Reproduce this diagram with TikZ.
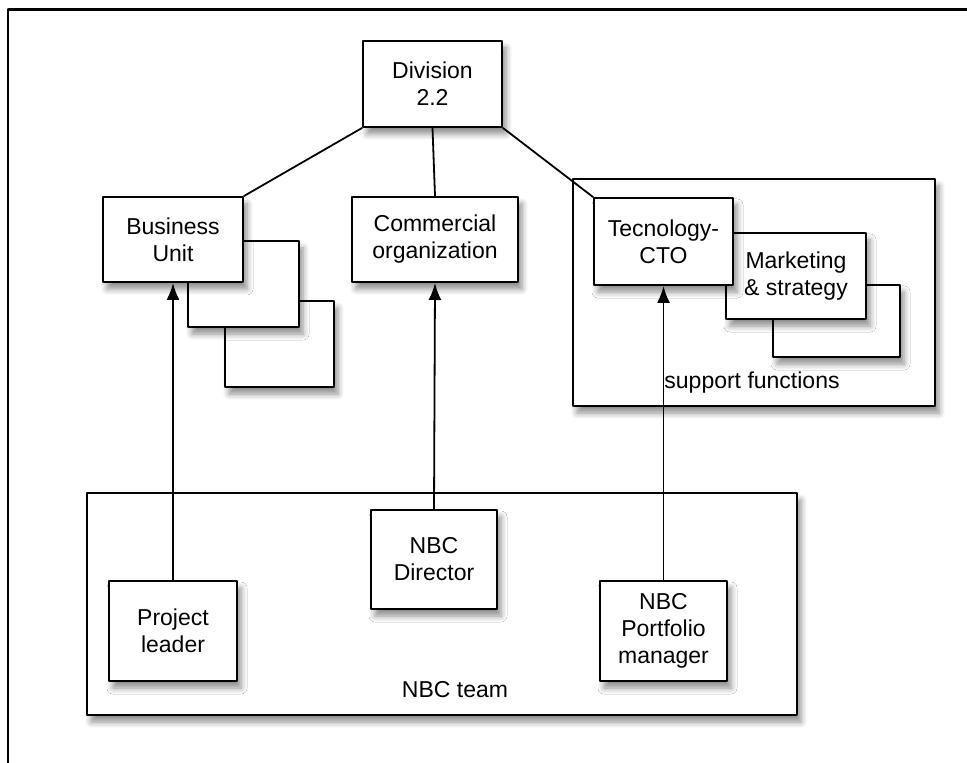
\documentclass[tikz,border=0pt]{standalone}
\usepackage{fontspec}
\setmainfont{Liberation Sans}
\usetikzlibrary{arrows.meta}
\usetikzlibrary{shadows}
\usetikzlibrary{shadows.blur}

\tikzset{
  box/.style={draw, line width=1pt, fill=white, align=center, inner sep=0pt,
    blur shadow={shadow xshift=2pt, shadow yshift=-3.5pt, shadow blur radius=3pt,
      shadow blur steps=6, shadow opacity=45},
    font=\fontsize{11.5}{13.5}\selectfont},
  lbl/.style={font=\fontsize{11.5}{13.5}\selectfont},
  link/.style={line width=0.9pt},
  arr/.style={line width=0.9pt, -{Latex[length=8.5pt, width=6.5pt]}}
}

\begin{document}
\begin{tikzpicture}[line cap=round,line join=round, x=0.5pt,y=-0.5pt]
\useasboundingbox (0,0) rectangle (967,763);
\draw [line width=1.2pt] (8,763) -- (8,9.5) -- (967,9.5);
\node[box, minimum width=181pt, minimum height=113.5pt] (sup) at (754,292.5) {};
\node[box, minimum width=355pt, minimum height=111pt] (team) at (442,604) {};
\node[lbl] (suplabel) at (752,383) {support functions};
\node[lbl] (teamlabel) at (455,690) {NBC team};
\node[box, minimum width=69.5pt, minimum height=43pt] (div) at (432.5,84) {Division\\2.2};
\node[box, minimum width=54.5pt, minimum height=43pt] (bu3) at (279.5,344) {};
\node[box, minimum width=55.5pt, minimum height=43pt] (bu2) at (243.5,284) {};
\node[box, minimum width=70pt, minimum height=42.5pt] (bu) at (173,239.5) {Business\\Unit};
\node[box, minimum width=83pt, minimum height=42.5pt] (com) at (435,239.5) {Commercial\\organization};
\node[box, minimum width=63.5pt, minimum height=36pt] (mkt2) at (836.5,321) {};
\node[box, minimum width=70pt, minimum height=43pt] (mkt) at (796,276) {Marketing\\\& strategy};
\node[box, minimum width=69.5pt, minimum height=43.5pt] (cto) at (663.5,241.5) {Tecnology-\\CTO};
\node[box, minimum width=64pt, minimum height=50pt] (pl) at (173,631) {Project\\leader};
\node[box, minimum width=63pt, minimum height=49.5pt] (dir) at (434,559.5) {NBC\\Director};
\node[box, minimum width=63.5pt, minimum height=50pt] (pm) at (663.5,631) {NBC\\Portfolio\\manager};
\draw [link] (div.south west) -- (bu.north east);
\draw [link] (div.south) -- (com.north);
\draw [link] (div.south east) -- (cto.north west);
\draw [arr] (pl.north) -- (bu.south);
\draw [arr] (dir.north) -- (com.south);
\draw [arr] (pm.north) -- (cto.south);
\end{tikzpicture}
\end{document}
